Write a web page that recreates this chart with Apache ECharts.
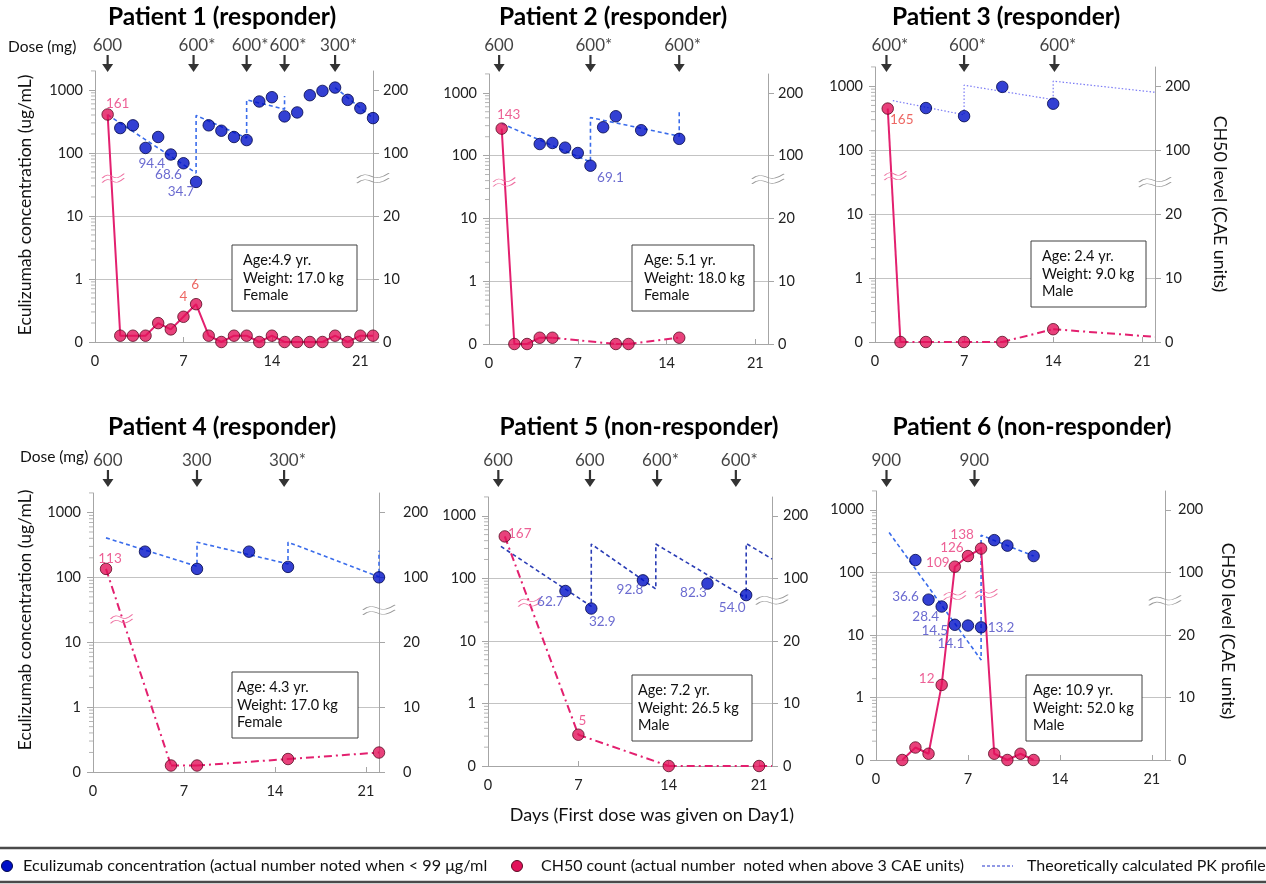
<!DOCTYPE html>
<html><head><meta charset="utf-8">
<script src="https://cdn.jsdelivr.net/npm/echarts@6/dist/echarts.min.js"></script>
<style>html,body{margin:0;padding:0;background:#fff}#c{width:1266px;height:884px}</style>
</head><body><div id="c"></div>
<script>
const FONT = 'Lato, "Open Sans", sans-serif';

// ---------- data ----------
const titles = ['Patient 1 (responder)','Patient 2 (responder)','Patient 3 (responder)','Patient 4 (responder)','Patient 5 (non-responder)','Patient 6 (non-responder)'];
const leftTickLabels = ['0','1','10','100','1000'];
const rightTickLabels = ['0','10','20','100','200'];
const xTickLabels = ['0','7','14','21'];

// Eculizumab concentration (ug/mL)
const p1ConcDays = [2,3,4,5,6,7,8,9,10,11,12,13,14,15,16,17,18,19,20,21,22];
const p1Conc     = [248,274,120,179,94.4,68.6,34.7,274,225,179,160,655,766,380,439,824,964,1089,695,513,357];
const p2ConcDays = [4,5,6,7,8,9,10,12,15];
const p2Conc     = [153,159,134,110,69.1,283,424,254,185];
const p3ConcDays = [4,7,10,14];
const p3Conc     = [455,340,975,532];
const p4ConcDays = [4,8,12,15,22];
const p4Conc     = [249,135,249,145,100];
const p5ConcDays = [6,8,12,17,20];
const p5Conc     = [62.7,32.9,92.8,82.3,54.0];
const p6ConcDays = [3,4,5,6,7,8,9,10,12];
const p6Conc     = [157,36.6,28.4,14.5,14.1,13.2,327,267,182];

// Theoretical PK profile (null = break)
const p1PkDays = [1,8,8,12,12,15,15,17,19,22];
const p1Pk     = [403,48,394,172,695,495,804,null,1089,357];
const p2PkDays = [1,8,8,15,15];
const p2Pk     = [324,79,404,204,509];
const p3PkDays = [1.4,7,7,14,14,22];
const p3Pk     = [594,357,1037,616,1200,804];
const p4PkDays = [1,8,8,15,15,22,22];
const p4Pk     = [406,148,348,161,348,102,258];
const p5PkDays = [1,8,8,13,13,20,20,22];
const p5Pk     = [324,35.7,353,67.6,353,48.5,361,204];
const p6PkDays = [1,8,8,12];
const p6Pk     = [433,3.98,392,182];

// CH50 (CAE units)
const p1ChDays = [1,2,3,4,5,6,7,8,9,10,11,12,13,14,15,16,17,18,19,20,21,22];
const p1Ch     = [161,1,1,1,3,2,4,6,1,0,1,1,0,1,0,0,0,0,1,0,1,1];
const p2ChDays = [1,2,3,4,5,10,11,15];
const p2Ch     = [143,0,0,1,1,0,0,1];
const p3ChDays = [1,2,4,7,10,14];
const p3Ch     = [165,0,0,0,0,2];
const p3ChTail = [22,0.8];
const p4ChDays = [1,6,8,15,22];
const p4Ch     = [113,1,1,2,3];
const p5ChDays = [1.3,7,14,21];
const p5Ch     = [167,5,0,0];
const p5ChTail = [22,0];
const p6ChDays = [2,3,4,5,6,7,8,9,10,11,12];
const p6Ch     = [0,2,1,12,109,126,138,1,0,1,0];

// Doses
const p1DoseDays = [1,7.8,12,15,19];
const p1Doses    = ['600','600*','600*','600*','300*'];
const p2DoseDays = [0.8,8,15];
const p2Doses    = ['600','600*','600*'];
const p3DoseDays = [0.9,7,14.1];
const p3Doses    = ['600*','600*','600*'];
const p4DoseDays = [1.15,8,14.7];
const p4Doses    = ['600','300','300*'];
const p5DoseDays = [0.8,7.9,13.1,19.2];
const p5Doses    = ['600','600','600*','600*'];
const p6DoseDays = [0.8,7.5];
const p6Doses    = ['900','900'];

// Patient info
const p1Info = ['Age:4.9 yr.','Weight: 17.0 kg','Female'];
const p2Info = ['Age: 5.1 yr.','Weight: 18.0 kg','Female'];
const p3Info = ['Age: 2.4 yr.','Weight: 9.0 kg','Male'];
const p4Info = ['Age: 4.3 yr.','Weight: 17.0 kg','Female'];
const p5Info = ['Age: 7.2 yr.','Weight: 26.5 kg','Male'];
const p6Info = ['Age: 10.9 yr.','Weight: 52.0 kg','Male'];

// ---------- layout / style config ----------
const BLUE_LBL = '#4646C4', PINK_LBL = '#E8387A', RED_LBL = '#E8413C';
const panels = [
 {g:{l:95,r:373,t:71,b:342}, doseTop:55, rMargin:10, cd:p1ConcDays, c:p1Conc, pd:p1PkDays, pk:p1Pk, hd:p1ChDays, h:p1Ch, tail:null, dd:p1DoseDays, ds:p1Doses, info:p1Info,
  box:[232,245,125,66,243], cLbl:[[4,-19,9],[5,-15,11],[6,-15,10]], hLbl:[[0,10,-11,PINK_LBL],[6,0,-20,RED_LBL],[7,-1,-20,RED_LBL]],
  brk:[[1.44,2.6]], rBrk:2.6, pkStyle:{color:'#3A6CEB',type:[4,3],width:1.6}},
 {g:{l:489,r:768,t:74,b:344}, doseTop:55, rMargin:10, cd:p2ConcDays, c:p2Conc, pd:p2PkDays, pk:p2Pk, hd:p2ChDays, h:p2Ch, tail:null, dd:p2DoseDays, ds:p2Doses, info:p2Info,
  box:[632,245,122,66,644], cLbl:[[4,20,12]], hLbl:[[0,7,-14,PINK_LBL]],
  brk:[[1.2,2.58]], rBrk:2.63, pkStyle:{color:'#3A6CEB',type:[4,3],width:1.6}},
 {g:{l:875,r:1155,t:67,b:342}, doseTop:55, rMargin:10, cd:p3ConcDays, c:p3Conc, pd:p3PkDays, pk:p3Pk, hd:p3ChDays, h:p3Ch, tail:p3ChTail, dd:p3DoseDays, ds:p3Doses, info:p3Info,
  box:[1031,241,115,66,1042], cLbl:[], hLbl:[[0,14,11,RED_LBL]],
  brk:[[1.6,2.6]], rBrk:2.5, pkStyle:{color:'#7B7BF5',type:[1.5,2],width:1.2}},
 {g:{l:93,r:379,t:493,b:772}, doseTop:470, rMargin:24, cd:p4ConcDays, c:p4Conc, pd:p4PkDays, pk:p4Pk, hd:p4ChDays, h:p4Ch, tail:null, dd:p4DoseDays, ds:p4Doses, info:p4Info,
  box:[232,672,126,66,237], cLbl:[], hLbl:[[0,4,-10,PINK_LBL]],
  brk:[[2.2,2.36]], rBrk:2.5, pkStyle:{color:'#3A6CEB',type:[4,3],width:1.6}},
 {g:{l:488,r:772,t:497,b:766}, doseTop:470, rMargin:11, cd:p5ConcDays, c:p5Conc, pd:p5PkDays, pk:p5Pk, hd:p5ChDays, h:p5Ch, tail:p5ChTail, dd:p5DoseDays, ds:p5Doses, info:p5Info,
  box:[632,675,120,66,638], cLbl:[[0,-15,11],[1,11,13],[2,-13,9],[3,-14,9],[4,-14,13]], hLbl:[[0,15,-3,PINK_LBL],[1,4,-14,PINK_LBL]],
  brk:[[3.2,2.62]], rBrk:2.66, pkStyle:{color:'#2B3DB5',type:[4,3],width:1.6}},
 {g:{l:876,r:1165,t:491,b:760}, doseTop:470, rMargin:13, cd:p6ConcDays, c:p6Conc, pd:p6PkDays, pk:p6Pk, hd:p6ChDays, h:p6Ch, tail:null, dd:p6DoseDays, ds:p6Doses, info:p6Info,
  box:[1026,675,116,66,1033], cLbl:[[1,-23,-3],[2,-16,10],[3,-20,6],[4,-17,18],[5,20,0]], hLbl:[[3,-15,-6,PINK_LBL],[4,-17,-4,PINK_LBL],[5,-16,-8,PINK_LBL],[6,-19,-14,PINK_LBL]],
  brk:[[6.0,2.63],[8.4,2.66]], rBrk:2.55, pkStyle:{color:'#3A6CEB',type:[4,3],width:1.6}}
];
const titlePos = [[222,17],[613,17],[1006,17],[222,427],[639,427],[1032,427]];

// scale transforms for the broken dual axis
const concY = v => Math.log10(v) + 1;              // 0.1->0, 1->1, 10->2, 100->3, 1000->4
const chY = v => v <= 10 ? v/10 : (v <= 20 ? 1 + (v-10)/10 : 3 + (v-100)/100);

const YMAX = 4.3, XMAX = 22;
const minorTicks = [];
for (let d = -1; d <= 3; d++) for (let k = 2; k <= 9; k++) { const y = Math.log10(k*Math.pow(10,d)) + 1; if (y < YMAX) minorTicks.push(y); }
minorTicks.push(concY(2000));

const ARROW = 'path://M3.8,0 L6.2,0 L6.2,9 L11,9 L5,17 L-1,9 L3.8,9 Z';
const WAVE = 'path://M0,7 C5,2 9,2 14,5 C19,8 24,6 30,1 M0,13 C5,8 9,8 14,11 C19,14 24,12 30,7';

const grid = [], xAxis = [], yAxis = [], series = [];
const axisGray = '#A6A6A6', gridGray = '#C3C3C3';

panels.forEach((p, i) => {
  const g = p.g;
  grid.push({left:g.l, top:g.t, width:g.r-g.l, height:g.b-g.t, containLabel:false});
  grid.push({left:g.l, top:p.doseTop, width:g.r-g.l, height:17, containLabel:false});
  const gi = 2*i;
  xAxis.push({gridIndex:gi, type:'value', min:0, max:XMAX, interval:7,
    axisLine:{show:true, onZero:false, lineStyle:{color:axisGray, width:1}},
    axisTick:{show:true, inside:true, length:5, lineStyle:{color:axisGray}},
    axisLabel:{margin:12, fontFamily:FONT, fontSize:14.5, color:'#222', formatter:v => (v % 7 === 0 ? xTickLabels[v/7] : '')},
    splitLine:{show:false}});
  xAxis.push({gridIndex:gi+1, type:'value', min:0, max:XMAX, show:false});
  const yi = 3*i;
  yAxis.push({gridIndex:gi, type:'value', min:0, max:YMAX, interval:1, position:'left',
    axisLine:{show:true, onZero:false, lineStyle:{color:axisGray}},
    axisTick:{show:true, inside:false, length:6, lineStyle:{color:axisGray}, customValues:[0,1,2,3,4]},
    axisLabel:{margin:12, fontFamily:FONT, fontSize:14.5, color:'#222', formatter:v => (Number.isInteger(v) ? leftTickLabels[v] : '')},
    splitLine:{show:true, showMinLine:false, showMaxLine:false, lineStyle:{color:gridGray, width:1}}});
  yAxis.push({gridIndex:gi, type:'value', min:0, max:YMAX, interval:1, position:'right',
    axisLine:{show:true, onZero:false, lineStyle:{color:axisGray}},
    axisTick:{show:true, inside:false, length:6, lineStyle:{color:axisGray}, customValues:[0,1,2,3,4]},
    axisLabel:{margin:p.rMargin, fontFamily:FONT, fontSize:14.5, color:'#222', formatter:v => (Number.isInteger(v) ? rightTickLabels[v] : '')},
    splitLine:{show:false}});
  yAxis.push({gridIndex:gi+1, type:'value', min:0, max:1, show:false});

  // minor log ticks on the left axis
  series.push({type:'custom', xAxisIndex:gi, yAxisIndex:yi, silent:true, clip:false, z:1,
    data: minorTicks.map(v => [0, v]),
    renderItem:(params, api) => {
      const pt = api.coord([0, api.value(1)]);
      return {type:'line', shape:{x1:pt[0]-4, y1:pt[1], x2:pt[0], y2:pt[1]}, style:{stroke:'#B5B5B5', lineWidth:1}};
    }});

  // theoretical PK profile
  series.push({type:'line', xAxisIndex:gi, yAxisIndex:yi, showSymbol:false, symbol:'none', silent:true, z:2, clip:true,
    connectNulls:false,
    lineStyle:{color:p.pkStyle.color, type:p.pkStyle.type, width:p.pkStyle.width},
    data: p.pd.map((d,k) => [d, p.pk[k] == null ? '-' : concY(p.pk[k])])});

  // CH50 lines: solid between consecutive days, dash-dot across gaps
  const solid = [], dash = [];
  for (let k = 0; k < p.hd.length; k++) {
    solid.push([p.hd[k], chY(p.h[k])]);
    if (k < p.hd.length - 1) {
      const gap = p.hd[k+1] - p.hd[k];
      if (gap > 1.01) {
        solid.push([(p.hd[k]+p.hd[k+1])/2, '-']);
        dash.push([p.hd[k], chY(p.h[k])], [p.hd[k+1], chY(p.h[k+1])], [p.hd[k+1]+0.001, '-']);
      }
    }
  }
  if (p.tail) {
    const last = p.hd.length - 1;
    dash.push([p.hd[last], chY(p.h[last])], [p.tail[0], chY(p.tail[1])]);
  }
  series.push({type:'line', xAxisIndex:gi, yAxisIndex:yi+1, showSymbol:false, symbol:'none', silent:true, z:3, clip:false,
    connectNulls:false, lineStyle:{color:'#E3206F', width:2}, data:solid});
  series.push({type:'line', xAxisIndex:gi, yAxisIndex:yi+1, showSymbol:false, symbol:'none', silent:true, z:3, clip:false,
    connectNulls:false, lineStyle:{color:'#E3206F', width:2, type:[8,4,2,4]}, data:dash});

  // Eculizumab concentration points
  const cl = {}; p.cLbl.forEach(a => cl[a[0]] = a);
  series.push({type:'scatter', xAxisIndex:gi, yAxisIndex:yi, symbol:'circle', symbolSize:11.5, z:5, clip:false,
    itemStyle:{color:'#0010C8', borderColor:'#00064A', borderWidth:1},
    data: p.cd.map((d,k) => {
      const item = {value:[d, concY(p.c[k])], raw:p.c[k]};
      if (cl[k]) item.label = {show:true, position:'inside', offset:[cl[k][1], cl[k][2]], color:BLUE_LBL,
        fontFamily:FONT, fontSize:13.5, formatter:prm => prm.data.raw.toFixed(1)};
      return item;
    }),
    markPoint:{silent:true, symbol:WAVE, symbolSize:[22,9], label:{show:false},
      itemStyle:{color:'rgba(0,0,0,0)', borderColor:'#EE6FA0', borderWidth:1},
      data: p.brk.map(b => ({coord:b})).concat([{coord:[XMAX, p.rBrk], symbolSize:[32,10], itemStyle:{color:'rgba(0,0,0,0)', borderColor:'#9A9A9A', borderWidth:1}}])}
  });

  // CH50 points
  const hl = {}; p.hLbl.forEach(a => hl[a[0]] = a);
  series.push({type:'scatter', xAxisIndex:gi, yAxisIndex:yi+1, symbol:'circle', symbolSize:11.5, z:6, clip:false,
    itemStyle:{color:'#E2125A', borderColor:'#5A0A22', borderWidth:1},
    data: p.hd.map((d,k) => {
      const item = {value:[d, chY(p.h[k])], raw:p.h[k]};
      if (hl[k]) item.label = {show:true, position:'inside', offset:[hl[k][1], hl[k][2]], color:hl[k][3],
        fontFamily:FONT, fontSize:13.5, formatter:prm => String(prm.data.raw)};
      return item;
    })});

  // dose arrows
  series.push({type:'scatter', xAxisIndex:gi+1, yAxisIndex:yi+2, symbol:ARROW, symbolSize:[11,17], z:5, clip:false, silent:true,
    itemStyle:{color:'#000'},
    label:{show:true, position:'top', distance:1, align:'left', offset:[-15,0], fontFamily:FONT, fontSize:17, color:'#111',
      formatter:prm => p.ds[prm.dataIndex]},
    data: p.dd.map(d => [d, 0.5])});
});

// ---------- graphic texts ----------
const graphic = [];
titles.forEach((t,i) => graphic.push({type:'text', x:titlePos[i][0], y:titlePos[i][1], z:50,
  style:{text:t, align:'center', verticalAlign:'middle', fontFamily:FONT, fontWeight:'bold', fontSize:24.5, fill:'#000'}}));
graphic.push({type:'text', x:8, y:47, z:50, style:{text:'Dose (mg)', align:'left', verticalAlign:'middle', fontFamily:FONT, fontSize:15.5, fill:'#111'}});
graphic.push({type:'text', x:20, y:457, z:50, style:{text:'Dose (mg)', align:'left', verticalAlign:'middle', fontFamily:FONT, fontSize:15.5, fill:'#111'}});
[[25,205],[25,620]].forEach(pt => graphic.push({type:'text', x:pt[0], y:pt[1], rotation:Math.PI/2, z:50,
  style:{text:'Eculizumab concentration (ug/mL)', align:'center', verticalAlign:'middle', fontFamily:FONT, fontSize:17.5, fill:'#111'}}));
[[1220,204],[1228,631]].forEach(pt => graphic.push({type:'text', x:pt[0], y:pt[1], rotation:-Math.PI/2, z:50,
  style:{text:'CH50 level (CAE units)', align:'center', verticalAlign:'middle', fontFamily:FONT, fontSize:17.8, fill:'#111'}}));
graphic.push({type:'text', x:652, y:815, z:50, style:{text:'Days (First dose was given on Day1)', align:'center', verticalAlign:'middle', fontFamily:FONT, fontSize:18, fill:'#111'}});

panels.forEach(p => {
  const b = p.box;
  graphic.push({type:'rect', z:40, shape:{x:b[0], y:b[1], width:b[2], height:b[3]}, style:{fill:'#fff', stroke:'#404040', lineWidth:1}});
  graphic.push({type:'text', z:41, x:b[4], y:b[1]+7, style:{text:p.info.join('\n'), align:'left', verticalAlign:'top', lineHeight:17.5,
    fontFamily:FONT, fontSize:14.5, fill:'#111'}});
});

// legend
graphic.push({type:'rect', z:40, shape:{x:-3, y:848, width:1272, height:34}, style:{fill:'#fff', stroke:'#4A4A4A', lineWidth:2.5}});
graphic.push({type:'circle', z:41, shape:{cx:7, cy:866, r:5.5}, style:{fill:'#0010C8', stroke:'#00064A', lineWidth:1}});
graphic.push({type:'text', z:41, x:23, y:866, style:{text:'Eculizumab concentration (actual number noted when < 99 μg/ml', align:'left', verticalAlign:'middle', fontFamily:FONT, fontSize:16.2, fill:'#111'}});
graphic.push({type:'circle', z:41, shape:{cx:517, cy:866, r:5.5}, style:{fill:'#E2125A', stroke:'#5A0A22', lineWidth:1}});
graphic.push({type:'text', z:41, x:541, y:866, style:{text:'CH50 count (actual number  noted when above 3 CAE units)', align:'left', verticalAlign:'middle', fontFamily:FONT, fontSize:16, fill:'#111'}});
graphic.push({type:'line', z:41, shape:{x1:982, y1:866, x2:1013, y2:866}, style:{stroke:'#2233CC', lineWidth:1.2, lineDash:[3,2]}});
graphic.push({type:'text', z:41, x:1027, y:866, style:{text:'Theoretically calculated PK profile', align:'left', verticalAlign:'middle', fontFamily:FONT, fontSize:16, fill:'#111'}});

const chart = echarts.init(document.getElementById('c'), null, {renderer:'canvas'});
chart.setOption({animation:false, backgroundColor:'#fff', grid, xAxis, yAxis, series, graphic});
</script>
</body></html>
